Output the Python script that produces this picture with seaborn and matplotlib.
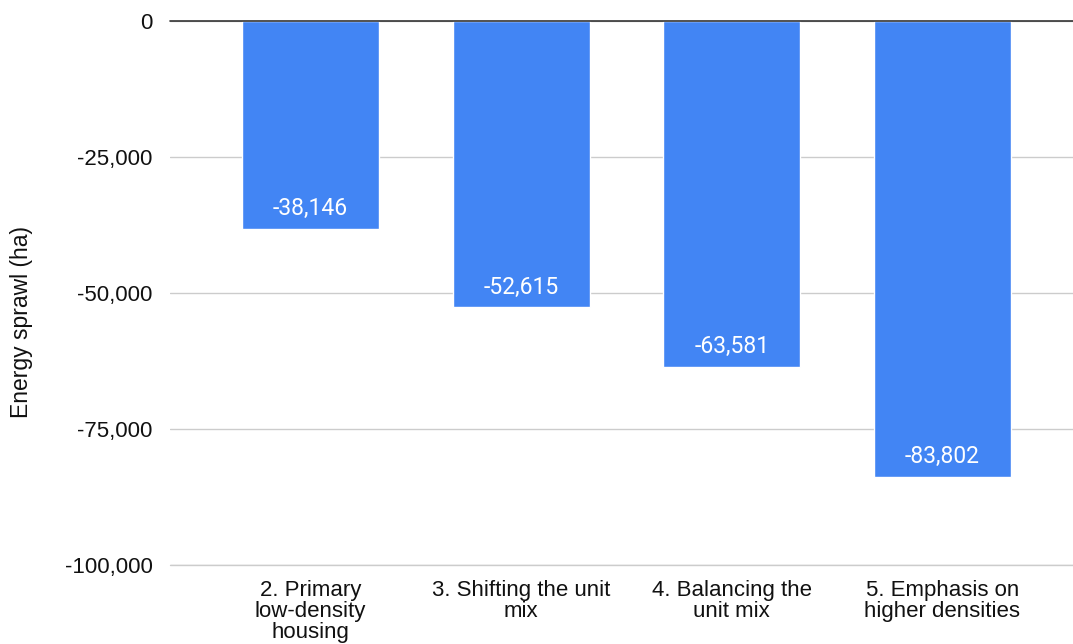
import numpy as np
import pandas as pd
import matplotlib
matplotlib.use("Agg")
import matplotlib.pyplot as plt
import matplotlib.ticker as mticker
import seaborn as sns

# dados do grafico
categories = ["2. Primary\nlow-density\nhousing", "3. Shifting the unit\nmix",
              "4. Balancing the\nunit mix", "5. Emphasis on\nhigher densities"]
values = [-38146, -52615, -63581, -83802]
y_ticks = [0, -25000, -50000, -75000, -100000]

df = pd.DataFrame({"scenario": categories, "sprawl": values})

sns.set_style("white")
plt.rcParams['font.family'] = ['Liberation Sans', 'DejaVu Sans']

fig = plt.figure(figsize=(10.73, 6.44), dpi=100)
ax = fig.add_axes([0.158, 0.1227, 0.842, 0.8447])

sns.barplot(data=df, x="scenario", y="sprawl", color="#4285F4", width=0.65,
            saturation=1, ax=ax, zorder=3)

ax.set_ylim(min(y_ticks), max(y_ticks))
ax.set_xlim(-0.67, 3.62)
ax.set_yticks(y_ticks)
ax.yaxis.set_major_formatter(mticker.FuncFormatter(lambda v, p: f"{v:,.0f}"))
ax.grid(axis="y", color="#cccccc", linewidth=1, zorder=0)
ax.axhline(min(y_ticks), color="#cccccc", linewidth=1, zorder=0, clip_on=False)
ax.axhline(0, color="#333333", linewidth=1.2, zorder=4, clip_on=False)
for s in ax.spines.values():
    s.set_visible(False)
ax.tick_params(axis="y", length=0, pad=12, labelsize=16, labelcolor="#111111")
ax.tick_params(axis="x", length=0, pad=11, labelsize=16, labelcolor="#111111")
ax.set_xlabel("")
ax.set_ylabel("Energy sprawl (ha)", fontsize=16.5, color="#111111")
ax.yaxis.set_label_coords(-0.151, 0.447)
for lbl in ax.get_xticklabels():
    lbl.set_linespacing(1.0)

# rotulos dentro das barras
for patch, v in zip(ax.patches, values):
    x = patch.get_x() + patch.get_width() / 2
    ax.annotate(f"{v:,.0f}", (x, v), xytext=(0, 14.5), textcoords="offset points",
                ha="center", va="center", color="white", fontsize=16.5,
                family=["Roboto", "DejaVu Sans"], zorder=5)

fig.savefig("out.png", dpi=100)
